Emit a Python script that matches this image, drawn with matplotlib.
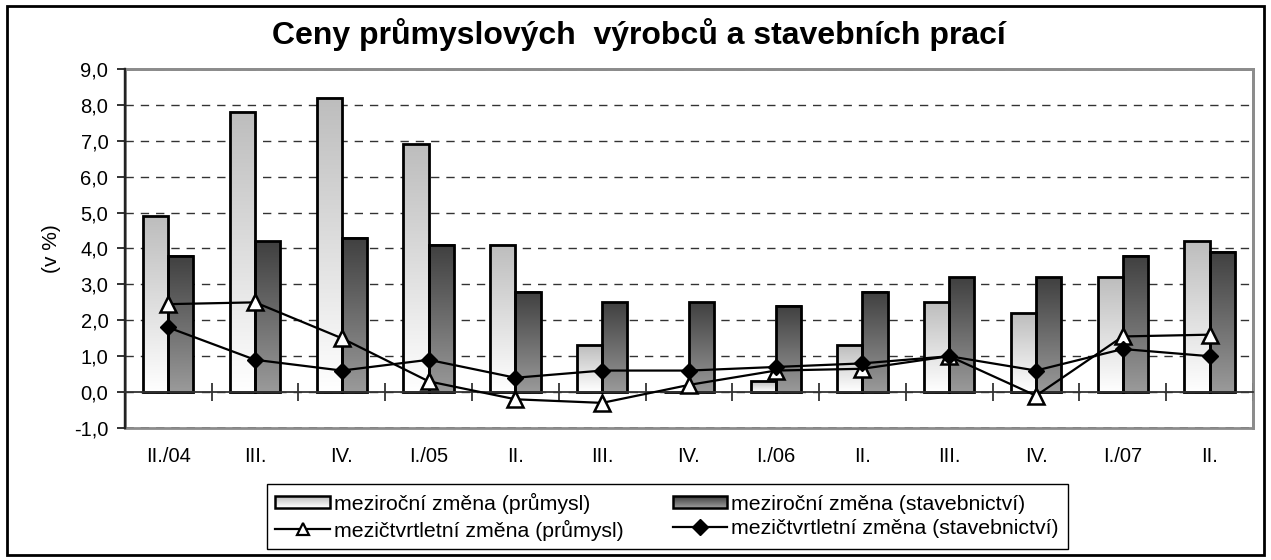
import numpy as np
import matplotlib
matplotlib.use("Agg")
import matplotlib.pyplot as plt
from matplotlib.patches import Rectangle, Patch
from matplotlib.lines import Line2D
from matplotlib.legend_handler import HandlerBase
from matplotlib.colors import to_rgb

plt.rcParams['font.family'] = ['Liberation Sans', 'DejaVu Sans']

# data
quarters = ["II./04", "III.", "IV.", "I./05", "II.", "III.", "IV.",
            "I./06", "II.", "III.", "IV.", "I./07", "II."]
yoy_prumysl = [4.9, 7.8, 8.2, 6.9, 4.1, 1.3, 0.0, 0.3, 1.3, 2.5, 2.2, 3.2, 4.2]
yoy_stavby = [3.8, 4.2, 4.3, 4.1, 2.8, 2.5, 2.5, 2.4, 2.8, 3.2, 3.2, 3.8, 3.9]
qoq_prumysl = [2.45, 2.5, 1.5, 0.3, -0.2, -0.3, 0.2, 0.6, 0.65, 1.0, -0.1, 1.55, 1.6]
qoq_stavby = [1.8, 0.9, 0.6, 0.9, 0.4, 0.6, 0.6, 0.7, 0.8, 1.0, 0.6, 1.2, 1.0]

lbl_yoy_p = "meziroční změna (průmysl)"
lbl_yoy_s = "meziroční změna (stavebnictví)"
lbl_qoq_p = "mezičtvrtletní změna (průmysl)"
lbl_qoq_s = "mezičtvrtletní změna (stavebnictví)"

LIGHT = ("#bdbdbd", "#ffffff")   # top, bottom
DARK = ("#404040", "#9a9a9a")


def gradient_fill(ax, bars, top, bot):
    t = np.array(to_rgb(top))
    b = np.array(to_rgb(bot))
    ramp = np.linspace(0, 1, 128)[:, None]
    img = (t * (1 - ramp) + b * ramp)[:, None, :]
    for p in bars.patches:
        h = p.get_height()
        if h <= 0:
            continue
        x0 = p.get_x()
        ax.imshow(img, extent=(x0, x0 + p.get_width(), 0, h),
                  aspect='auto', origin='upper', zorder=2, interpolation='bilinear')


class GradHandler(HandlerBase):
    def __init__(self, top, bot):
        super().__init__()
        self.top = np.array(to_rgb(top))
        self.bot = np.array(to_rgb(bot))

    def create_artists(self, legend, orig_handle, xdescent, ydescent,
                       width, height, fontsize, trans):
        arts = []
        n = 12
        h = height * 0.75
        y0 = -ydescent + (height - h) / 2
        for k in range(n):
            f = k / (n - 1)
            c = self.top * (1 - f) + self.bot * f
            arts.append(Rectangle((-xdescent, y0 + h * (n - 1 - k) / n), width, h / n,
                                  facecolor=c, edgecolor='none', transform=trans))
        arts.append(Rectangle((-xdescent, y0), width, h, fill=False,
                              edgecolor='black', lw=1.8, transform=trans))
        return arts


fig = plt.figure(figsize=(12.71, 5.6), dpi=100)
ax = fig.add_axes([0.0983, 0.2357, 0.8875, 0.6411])

x = np.arange(len(quarters))
w = 0.29
b1 = ax.bar(x - w / 2, yoy_prumysl, w, facecolor='none', edgecolor='black', lw=2, zorder=3)
b2 = ax.bar(x + w / 2, yoy_stavby, w, facecolor='none', edgecolor='black', lw=2, zorder=3)
gradient_fill(ax, b1, *LIGHT)
gradient_fill(ax, b2, *DARK)

ax.plot(x, qoq_prumysl, color='black', lw=1.6, marker='^', ms=11,
        mfc='white', mec='black', mew=1.8, zorder=5)
ax.plot(x, qoq_stavby, color='black', lw=1.6, marker='D', ms=8.5,
        mfc='black', mec='black', zorder=6)

ax.set_xlim(-0.5, len(quarters) - 0.5)
ax.set_ylim(-1, 9)
ax.set_yticks(np.arange(-1, 10))
ax.set_yticklabels([f"{v:.1f}".replace('.', ',') for v in np.arange(-1, 10)], fontsize=14.5)
ax.tick_params(axis='y', length=6, width=1.3, color='#222222', pad=6)
ax.grid(axis='y', color='#333333', lw=1.0, linestyle=(0, (6, 5)), zorder=1)
ax.set_axisbelow(True)

# category axis crossing at zero, labels below the plot area
ax.spines['bottom'].set_position(('data', 0))
ax.spines['bottom'].set_color('#333333')
ax.spines['bottom'].set_linewidth(1.3)
ax.spines['bottom'].set_zorder(4)
ax.set_xticks([])
ax.set_xticks(np.arange(-0.5, len(quarters)), minor=True)
ax.tick_params(axis='x', which='minor', direction='inout', length=13, width=1.2,
               color='#222222', labelbottom=False)

sec = ax.secondary_xaxis(location=0)
sec.set_xticks(x, quarters, fontsize=14.5)
sec.tick_params(length=0, pad=14)
sec.spines['bottom'].set_visible(False)

for s in ['top', 'right']:
    ax.spines[s].set_color('#8c8c8c')
    ax.spines[s].set_linewidth(2)
ax.spines['left'].set_color('#222222')
ax.spines['left'].set_linewidth(1.6)
ax.add_patch(Rectangle((0, 0), 1, 1, transform=ax.transAxes, fill=False,
                       edgecolor='#8c8c8c', lw=2, zorder=0.5, clip_on=False))
ax.plot([0, 0], [0, 1], transform=ax.transAxes, color='#222222', lw=1.6,
        zorder=4, clip_on=False)

ax.set_ylabel("(v %)", fontsize=15)
ax.yaxis.set_label_coords(-0.057, 0.5)

fig.text(0.503, 0.9375, "Ceny průmyslových  výrobců a stavebních prací",
         ha='center', va='center', fontsize=23, fontweight='bold')

h_light = Patch(label=lbl_yoy_p)
h_dark = Patch(label=lbl_yoy_s)
h_tri = Line2D([], [], color='black', lw=1.6, marker='^', ms=9,
               mfc='white', mec='black', mew=1.6)
h_dia = Line2D([], [], color='black', lw=1.6, marker='D', ms=8, mfc='black')
leg = fig.legend([h_light, h_tri, h_dark, h_dia],
                 [lbl_yoy_p, lbl_qoq_p, lbl_yoy_s, lbl_qoq_s],
                 handler_map={h_light: GradHandler(*LIGHT), h_dark: GradHandler(*DARK)},
                 loc='center', bbox_to_anchor=(0.5248, 0.0777), ncol=2, fontsize=15.3,
                 frameon=True, fancybox=False, edgecolor='black', framealpha=1,
                 handlelength=2.55, handletextpad=0.2, labelspacing=0.28,
                 columnspacing=2.3, borderpad=0.42, borderaxespad=0)
leg.get_frame().set_linewidth(1.0)

fig.add_artist(Rectangle((7 / 1271, 5 / 560), 1257 / 1271, 549 / 560,
                         transform=fig.transFigure, fill=False,
                         edgecolor='black', lw=2))

fig.savefig("out.png", dpi=100)
